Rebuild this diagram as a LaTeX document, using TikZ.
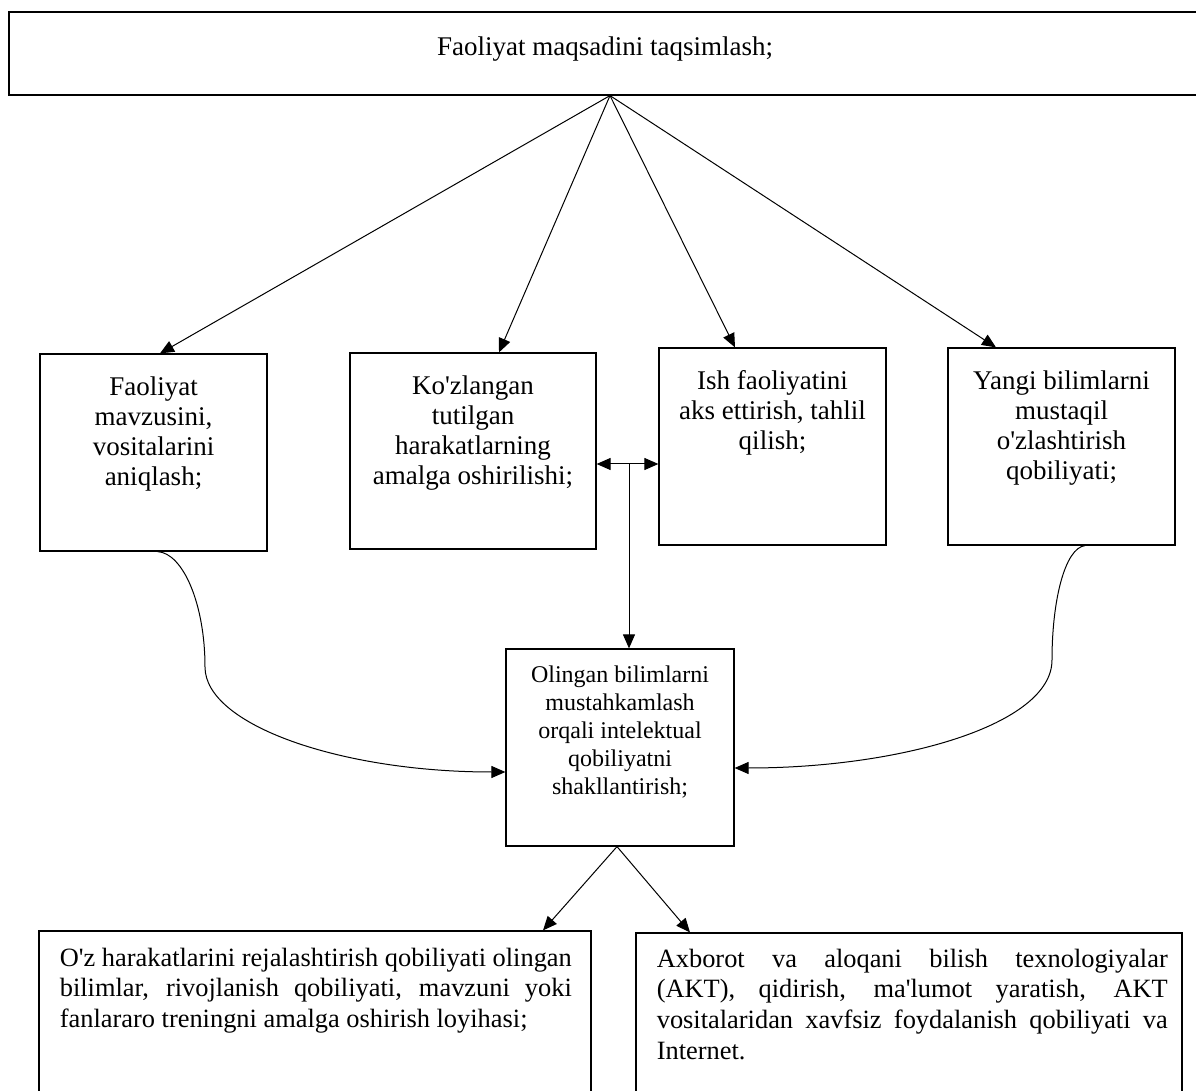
\documentclass[tikz,border=0pt]{standalone}
\usepackage{fontspec}
\setmainfont{Liberation Serif}
\usepackage{tikz}
\usetikzlibrary{arrows.meta,positioning,calc}
\newcommand{\apo}{\textquotesingle}
\hyphenpenalty=10000
\exhyphenpenalty=10000
\tikzset{
  frameBox/.style={draw, line width=0.6pt, inner sep=0pt},
  boxText/.style={inner sep=0pt, align=center, anchor=north, font=\fontsize{13.5}{15}\selectfont},
  smallText/.style={inner sep=0pt, align=center, anchor=north, font=\fontsize{12}{14}\selectfont},
  wideText/.style={inner sep=0pt, align=justify, anchor=north west, font=\fontsize{13.2}{15.4}\selectfont},
  linkArrow/.style={-{Triangle[length=7pt,width=6pt]}, line width=0.5pt}
}
\begin{document}
\begin{tikzpicture}[x=0.5pt, y=-0.5pt]
  \useasboundingbox (0,0) rectangle (1196,1091);
  % goal box on top
  \node[frameBox, minimum width=601pt, minimum height=41.5pt] (goal) at (610,53.5) {};
  \node[font=\fontsize{13.5}{16}\selectfont, inner sep=0pt] (goalText) at (605,49) {Faoliyat maqsadini taqsimlash;};
  % four boxes in the middle row
  \node[frameBox, minimum width=113.5pt, minimum height=98.5pt] (b1) at (153.5,452.5) {};
  \node[frameBox, minimum width=123pt, minimum height=98pt] (b2) at (473,451) {};
  \node[frameBox, minimum width=113.5pt, minimum height=98.5pt] (b3) at (772.5,446.5) {};
  \node[frameBox, minimum width=113.5pt, minimum height=98.5pt] (b4) at (1061.5,446.5) {};
  \node[boxText, below=11.5pt of b1.north] (b1Text) {Faoliyat\\ mavzusini,\\ vositalarini\\ aniqlash;};
  \node[boxText, below=11.5pt of b2.north] (b2Text) {Ko\apo zlangan\\ tutilgan\\ harakatlarning\\ amalga oshirilishi;};
  \node[boxText, below=11.5pt of b3.north] (b3Text) {Ish faoliyatini\\ aks ettirish, tahlil\\ qilish;};
  \node[boxText, below=11.5pt of b4.north] (b4Text) {Yangi bilimlarni\\ mustaqil\\ o\apo zlashtirish\\ qobiliyati;};
  % center box
  \node[frameBox, minimum width=114pt, minimum height=98.5pt] (cen) at (620,747.5) {};
  \node[smallText, below=8.3pt of cen.north] (cenText) {Olingan bilimlarni\\ mustahkamlash\\ orqali intelektual\\ qobiliyatni\\ shakllantirish;};
  % bottom boxes
  \node[frameBox, minimum width=276pt, minimum height=89.5pt] (out1) at (315,1020.5) {};
  \node[frameBox, minimum width=273pt, minimum height=88.5pt] (out2) at (909,1021.5) {};
  \node[wideText, text width=256pt, below right=8.5pt and 10.5pt of out1.north west] (out1Text) {O\apo z harakatlarini rejalashtirish qobiliyati olingan\linebreak bilimlar, rivojlanish qobiliyati, mavzuni yoki\linebreak fanlararo treningni amalga oshirish loyihasi;};
  \node[wideText, text width=255.5pt, below right=8pt and 10.5pt of out2.north west] (out2Text) {Axborot va aloqani bilish texnologiyalar\linebreak (AKT), qidirish, ma\apo lumot yaratish, AKT\linebreak vositalaridan xavfsiz foydalanish qobiliyati va\linebreak Internet.};

  \foreach \b/\s in {b1/3.25pt, b2/13pt, b3/-18.75pt, b4/-32.75pt}
    \draw[linkArrow] (goal.south) -- ([xshift=\s]\b.north);

  \coordinate (mid) at (629,464);
  \draw[linkArrow] (mid) -- (mid -| b2.east);
  \draw[linkArrow] (mid) -- (mid -| b3.west);
  \draw[linkArrow] (mid) -- (mid |- cen.north);

  \draw[linkArrow] ([xshift=2pt]b1.south) .. controls (183,553) and (205,604) .. (205,667)
    .. controls (205,725) and (341,772) .. ([yshift=-12.25pt]cen.west);
  \draw[linkArrow] ([xshift=11.75pt]b4.south) .. controls (1065,548) and (1052,600) .. (1052,660)
    .. controls (1052,725) and (900,768) .. ([yshift=-10.25pt]cen.east);

  \draw[linkArrow] ([xshift=-1.5pt]cen.south) -- ([xshift=114pt]out1.north);
  \draw[linkArrow] ([xshift=-1.5pt]cen.south) -- ([xshift=-109.5pt]out2.north);
\end{tikzpicture}
\end{document}
